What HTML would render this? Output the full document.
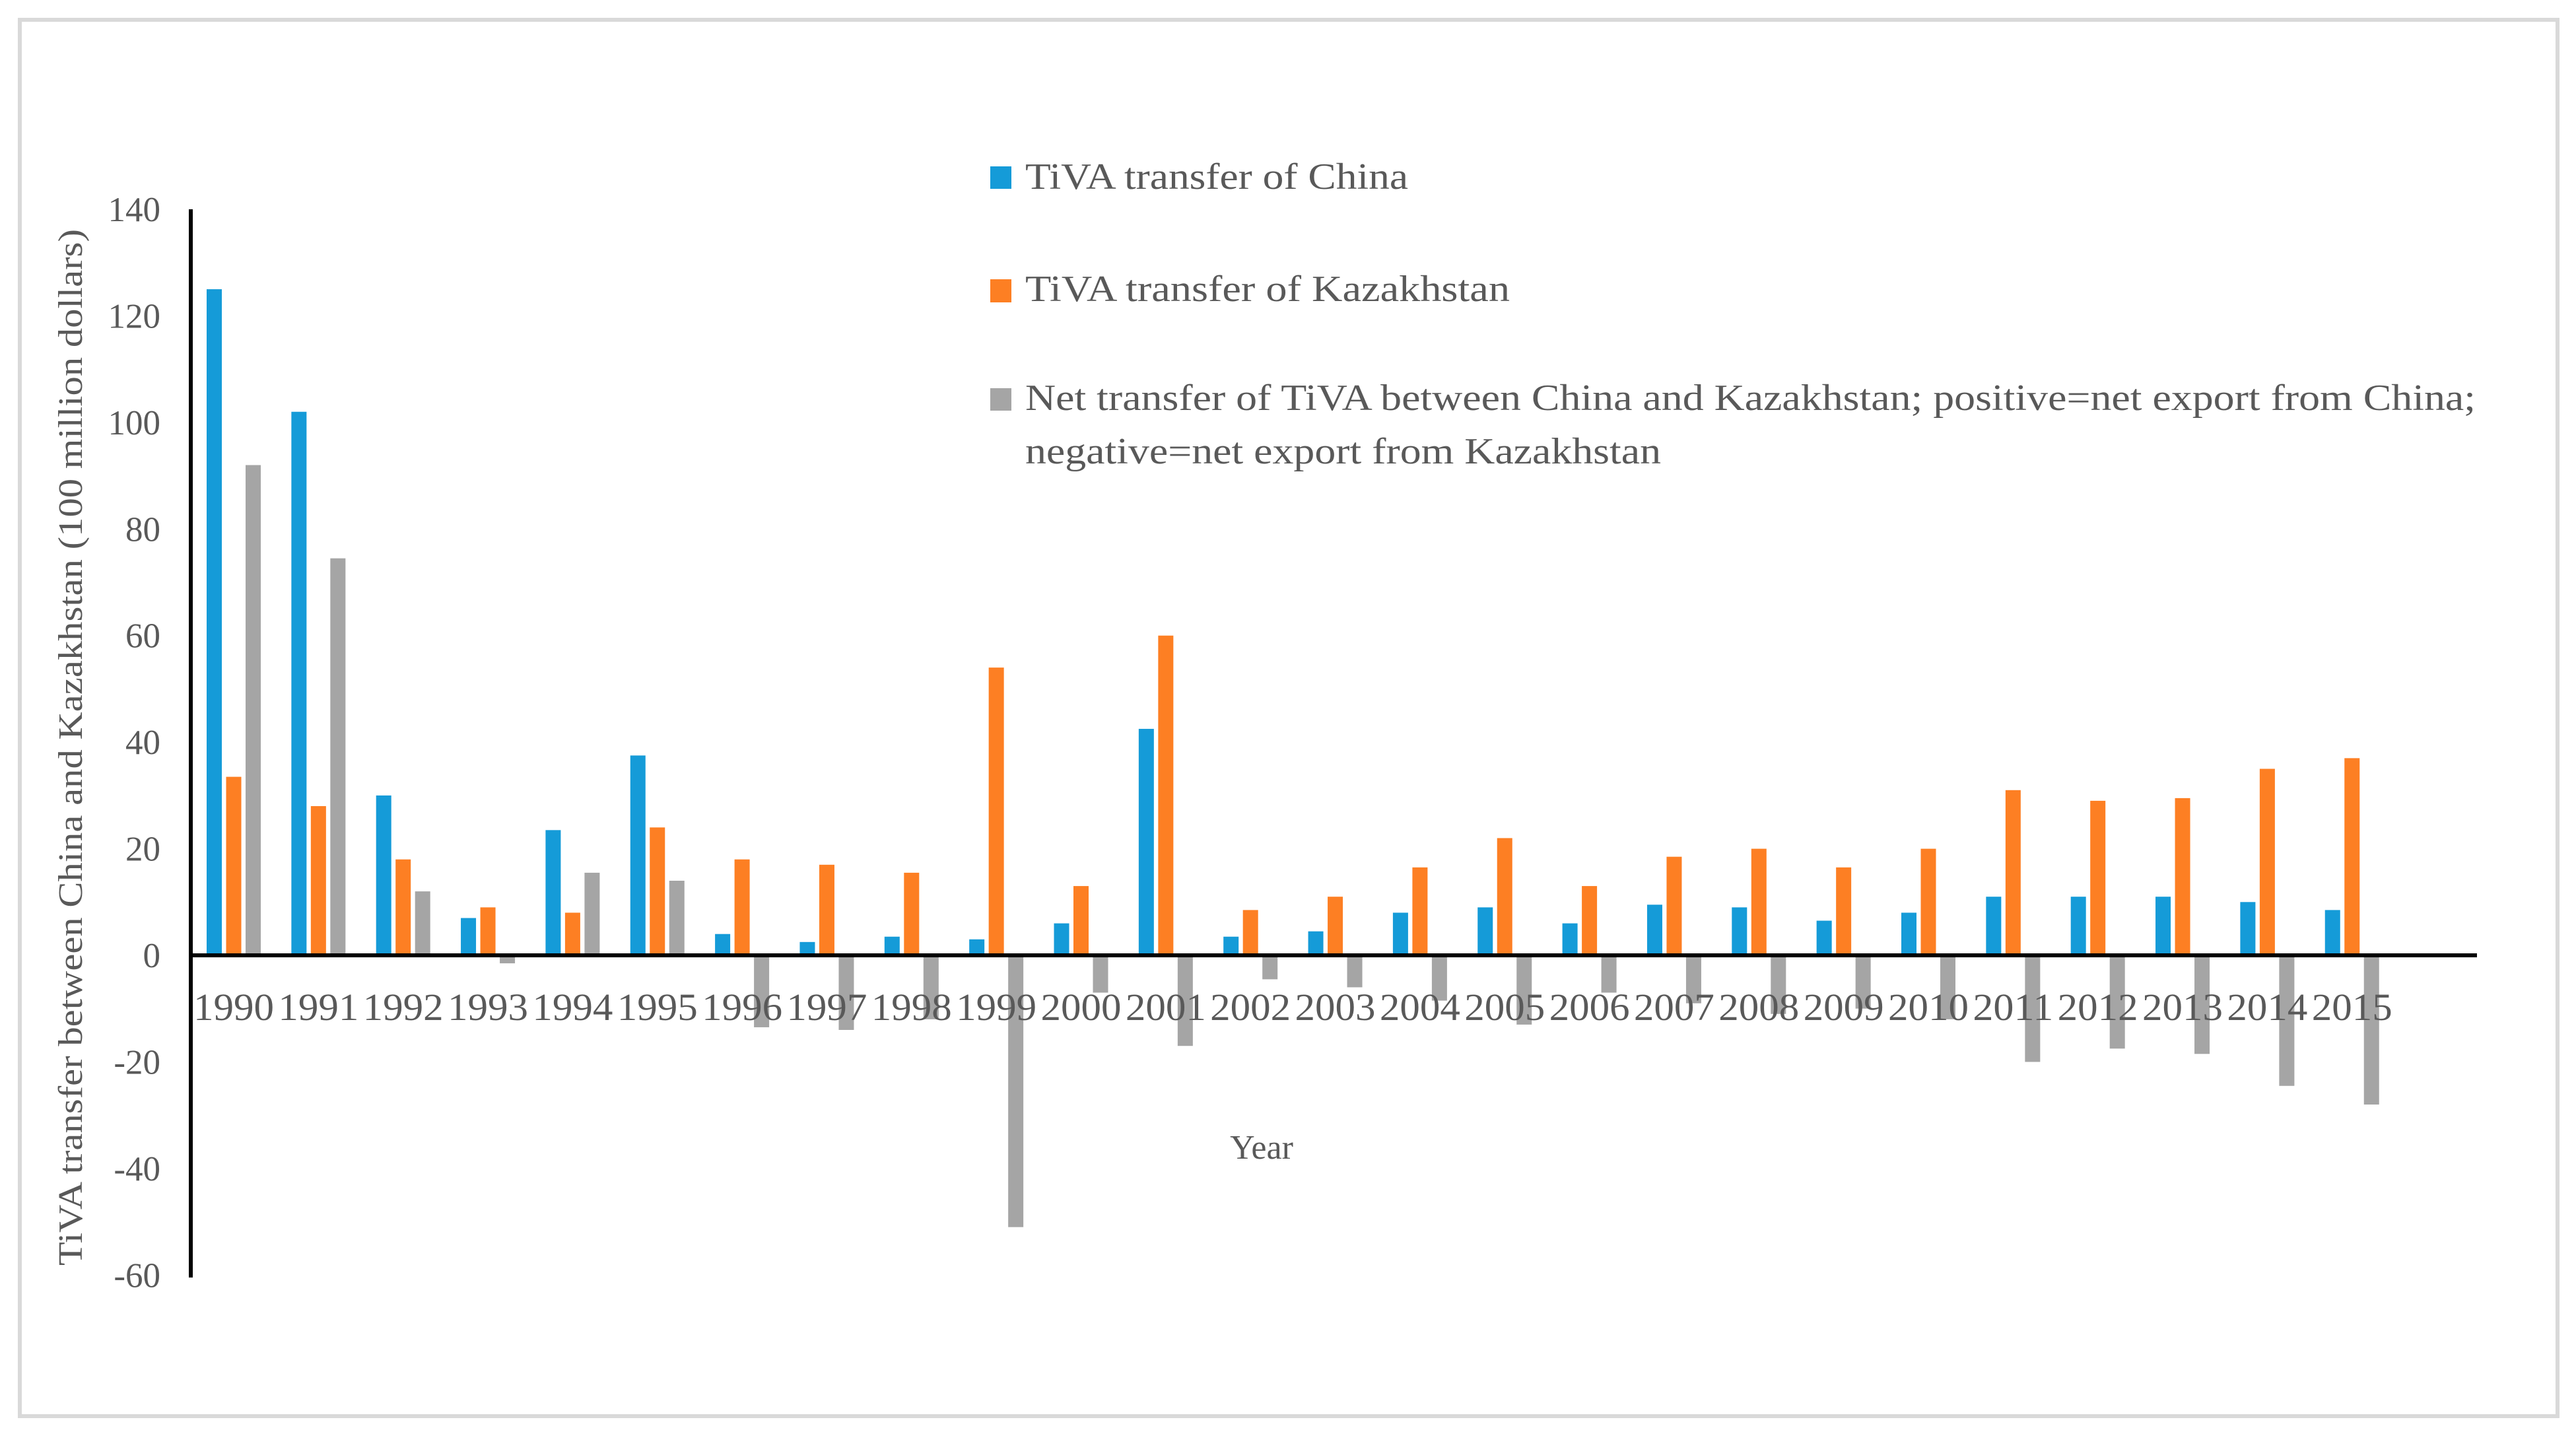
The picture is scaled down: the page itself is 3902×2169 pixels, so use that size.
<!DOCTYPE html>
<html><head><meta charset="utf-8"><style>
html,body{margin:0;padding:0;background:#fff}
svg{display:block}
text{font-family:"Liberation Serif",serif;fill:#595959}
</style></head><body>
<svg id="chart" width="3902" height="2169" viewBox="0 0 3902 2169">
<rect x="30" y="30" width="3844" height="2115" fill="#fff" stroke="#d9d9d9" stroke-width="6"/>
<g id="bars"></g>
<g id="yticks"></g>
<g id="xticks"></g>
<line x1="289" y1="317" x2="289" y2="1935" stroke="#000" stroke-width="6"/>
<line id="xaxis" x1="286" y1="1447" x2="3752" y2="1447" stroke="#000" stroke-width="6"/>
<text x="1911" y="1755" font-size="52" text-anchor="middle">Year</text>
<text transform="translate(124,1132) rotate(-90)" font-size="52" text-anchor="middle" textLength="1570" lengthAdjust="spacingAndGlyphs">TiVA transfer between China and Kazakhstan (100 million dollars)</text>
<g>
<rect x="1500" y="252" width="32" height="34" fill="#159bd8"/>
<text x="1553" y="286" font-size="56" textLength="580" lengthAdjust="spacingAndGlyphs">TiVA transfer of China</text>
<rect x="1500" y="423" width="32" height="35" fill="#fd7f23"/>
<text x="1553" y="456" font-size="56" textLength="734" lengthAdjust="spacingAndGlyphs">TiVA transfer of Kazakhstan</text>
<rect x="1500" y="588" width="32" height="34" fill="#a5a5a5"/>
<text x="1553" y="621" font-size="56" textLength="2197" lengthAdjust="spacingAndGlyphs">Net transfer of TiVA between China and Kazakhstan; positive=net export from China;</text>
<text x="1553" y="702" font-size="56" textLength="963" lengthAdjust="spacingAndGlyphs">negative=net export from Kazakhstan</text>
</g>
</svg>
<script>
const years = ["1990","1991","1992","1993","1994","1995","1996","1997","1998","1999","2000","2001","2002","2003","2004","2005","2006","2007","2008","2009","2010","2011","2012","2013","2014","2015"];
const chinaValues = [125,102,30,7,23.5,37.5,4,2.5,3.5,3,6,42.5,3.5,4.5,8,9,6,9.5,9,6.5,8,11,11,11,10,8.5];
const kazakhstanValues = [33.5,28,18,9,8,24,18,17,15.5,54,13,60,8.5,11,16.5,22,13,18.5,20,16.5,20,31,29,29.5,35,37];
const netValues = [92,74.5,12,-1.5,15.5,14,-13.5,-14,-12,-51,-7,-17,-4.5,-6,-8.5,-13,-7,-9,-11,-10,-12,-20,-17.5,-18.5,-24.5,-28];
const yTicks = [140,120,100,80,60,40,20,0,-20,-40,-60];

const NS="http://www.w3.org/2000/svg";
const y0px=1447, pxPerUnit=(1447-317)/140;
const firstCenter=354, band=128.35;
function yScale(v){return y0px - v*pxPerUnit;}
function xCenter(i){return firstCenter + band*i;}
const barsG=document.getElementById('bars');
const series=[[chinaValues,"#159bd8","china"],[kazakhstanValues,"#fd7f23","kazakhstan"],[netValues,"#a5a5a5","net"]];
const bw=23, step=29.5;
series.forEach((s,si)=>{
  s[0].forEach((v,i)=>{
    const r=document.createElementNS(NS,'rect');
    const cx=xCenter(i)+(si-1)*step;
    const ya=yScale(Math.max(v,0)), yb=yScale(Math.min(v,0));
    r.setAttribute('x',cx-bw/2);
    r.setAttribute('y',ya);
    r.setAttribute('width',bw);
    r.setAttribute('height',Math.max(yb-ya,0));
    r.setAttribute('fill',s[1]);
    
    
    barsG.appendChild(r);
  });
});
const yt=document.getElementById('yticks');
yTicks.forEach(t=>{
  const e=document.createElementNS(NS,'text');
  e.setAttribute('x',243);
  e.setAttribute('y',yScale(t)+18);
  e.setAttribute('font-size','53');
  e.setAttribute('text-anchor','end');
  e.textContent=t;
  
  
  yt.appendChild(e);
});
const xt=document.getElementById('xticks');
years.forEach((yr,i)=>{
  const e=document.createElementNS(NS,'text');
  e.setAttribute('x',xCenter(i));
  e.setAttribute('y',1545);
  e.setAttribute('font-size','58');
  e.setAttribute('text-anchor','middle');
  e.setAttribute('textLength','122');
  e.setAttribute('lengthAdjust','spacingAndGlyphs');
  e.textContent=yr;
  
  
  xt.appendChild(e);
});
</script>
</body></html>
